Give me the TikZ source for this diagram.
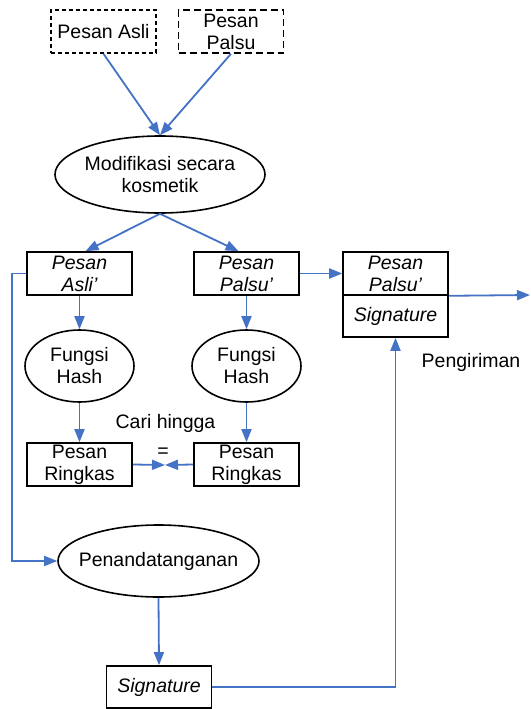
\documentclass[tikz,border=0pt]{standalone}
\usepackage{fontspec}
\setmainfont{Liberation Sans}
\usetikzlibrary{arrows.meta,shapes.geometric}
\definecolor{lnblue}{RGB}{68,114,196}
\newcommand{\nw}[1]{\makebox[0pt]{#1}}
\begin{document}
\begin{tikzpicture}[x=1pt,y=-1pt,
  font=\fontsize{19.5}{22}\selectfont,
  box/.style={draw=black,line width=1.6pt,rectangle,minimum width=105pt,minimum height=43pt,inner sep=0pt,align=center},
  ital/.style={font=\fontsize{19.5}{22}\selectfont\itshape},
  oval/.style={draw=black,line width=1.6pt,ellipse,inner sep=0pt,align=center},
  flow/.style={draw=lnblue,line width=1.8pt,-{Triangle[length=13pt,width=10pt]}},
  link/.style={draw=lnblue,line width=1.8pt}]
\useasboundingbox (0,0) rectangle (530,709);
% nodes
\node[box,dash pattern=on 4pt off 3pt] (oa) at (103.5,31.5) {Pesan Asli};
\node[box,dash pattern=on 7pt off 4pt] (of) at (231,31.5) {Pesan\\Palsu};
\node[oval,minimum width=210pt,minimum height=77pt] (mod) at (160,174.5) {\nw{Modifikasi secara}\\\nw{kosmetik}};
\node[box,ital] (pa) at (79.5,273.5) {Pesan\\Asli’};
\node[box,ital] (pp) at (246.5,273.5) {Pesan\\Palsu’};
\node[box,ital] (rp) at (395.5,273.5) {Pesan\\Palsu’};
\node[box,ital,minimum height=42pt] (rs) at (395.5,316) {Signature};
\node[oval,minimum width=109pt,minimum height=72pt] (ha) at (79.5,366) {Fungsi\\Hash};
\node[oval,minimum width=109pt,minimum height=72pt] (hp) at (246.5,366) {Fungsi\\Hash};
\node[box] (ra) at (79.5,464.5) {Pesan\\Ringkas};
\node[box] (rr) at (246.5,464.5) {Pesan\\Ringkas};
\coordinate (eq) at (165,465);
\node (eqs) at (163,452.5) {=};
\node[anchor=base] (cari) at (165.5,428) {Cari hingga};
\node[oval,minimum width=201pt,minimum height=72pt] (sig) at (158.5,561) {\nw{Penandatanganan}};
\node[box,ital,minimum height=42pt] (sg) at (159,687) {Signature};
\node[anchor=base] (kirim) at (471,367) {Pengiriman};
\coordinate (out) at (530,295);
\coordinate (lft) at (12,0);
% connectors
\draw[flow] (oa.south) -- (mod.north);
\draw[flow] (of.south) -- (mod.north);
\draw[flow] (mod.south) -- ([xshift=6pt]pa.north);
\draw[flow] (mod.south) -- ([xshift=-8pt]pp.north);
\draw[flow] (pp.east) -- (rp.west);
\draw[flow] (rp.south east) -- (out);
\draw[flow] (pa.south) -- (ha.north);
\draw[flow] (pp.south) -- (hp.north);
\draw[flow] (ha.south) -- (ra.north);
\draw[flow] (hp.south) -- (rr.north);
\draw[flow] (ra.east) -- (eq);
\draw[flow] (rr.west) -- (eq);
\draw[flow] (pa.west) -- (pa.west -| lft) |- (sig.west);
\draw[flow] (sig.south) -- (sg.north);
\draw[flow] (sg.east) -| (rs.south);
\end{tikzpicture}
\end{document}
